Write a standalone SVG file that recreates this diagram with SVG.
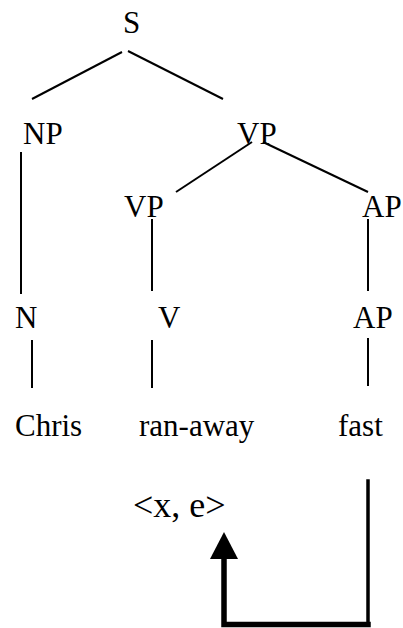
<svg xmlns="http://www.w3.org/2000/svg" width="403" height="628" viewBox="0 0 403 628">
  <style>
    .lbl { font-family: "Liberation Serif", "Times New Roman", serif; font-size: 31px; fill: #000; }
    .big { font-size: 36px; }
    .edge { stroke: #000; stroke-width: 2; fill: none; }
    .bind { stroke: #000; fill: none; stroke-linecap: square; }
  </style>
  <rect width="403" height="628" fill="#fff"/>

  <!-- tree branches -->
  <g id="connectors">
    <line class="edge" x1="122" y1="52" x2="32" y2="99"/>
    <line class="edge" x1="128" y1="51" x2="223" y2="99"/>
    <line class="edge" x1="21" y1="152" x2="21" y2="294"/>
    <line class="edge" x1="252" y1="142" x2="176" y2="192"/>
    <line class="edge" x1="263" y1="142" x2="368" y2="192"/>
    <line class="edge" x1="152" y1="219" x2="152" y2="291"/>
    <line class="edge" x1="368" y1="219" x2="368" y2="291"/>
    <line class="edge" x1="32" y1="340" x2="32" y2="388"/>
    <line class="edge" x1="152" y1="340" x2="152" y2="388"/>
    <line class="edge" x1="368" y1="338" x2="368" y2="386"/>
    <!-- binding arrow from "fast" back to the argument slot -->
    <polyline class="bind" stroke-width="3.5" points="368,481 368,624.5"/>
    <polyline class="bind" stroke-width="5.5" points="368,624.5 224,624.5 224,556"/>
    <polygon points="210,559 238,559 224,532" fill="#000"/>
  </g>

  <g id="S"><text class="lbl" x="123" y="33">S</text></g>
  <g id="NP"><text class="lbl" x="23" y="144">NP</text></g>
  <g id="VP"><text class="lbl" x="237" y="144">VP</text></g>
  <g id="VP2"><text class="lbl" x="124" y="217">VP</text></g>
  <g id="AP"><text class="lbl" x="362" y="217">AP</text></g>
  <g id="N"><text class="lbl" x="15" y="328">N</text></g>
  <g id="V"><text class="lbl" x="158" y="328">V</text></g>
  <g id="AP2"><text class="lbl" x="353" y="328">AP</text></g>
  <g id="Chris"><text class="lbl" x="15" y="436">Chris</text></g>
  <g id="ran-away"><text class="lbl" x="139" y="436">ran-away</text></g>
  <g id="fast"><text class="lbl" x="338" y="436">fast</text></g>
  <g id="args"><text class="lbl big" x="133" y="517">&lt;x, e&gt;</text></g>
</svg>
